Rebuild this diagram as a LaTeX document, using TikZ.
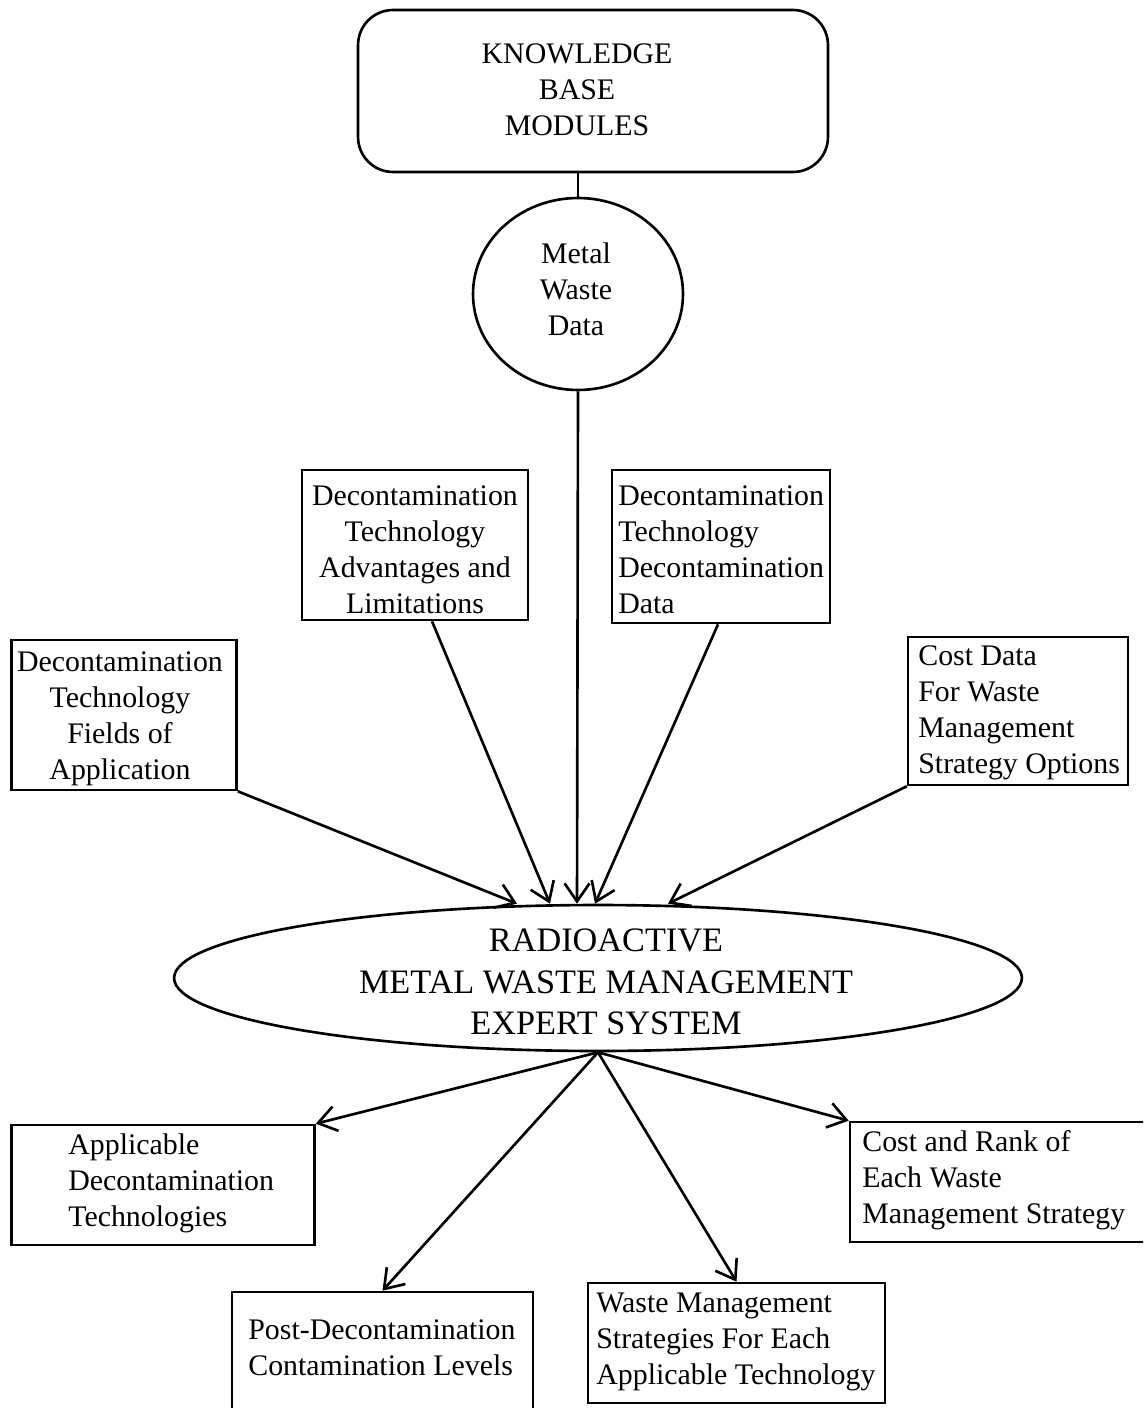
\documentclass[tikz,border=0pt]{standalone}
\usepackage{fontspec}
\setmainfont{Liberation Serif}
\usetikzlibrary{arrows.meta,shapes.geometric}
\tikzset{
  outline/.style={draw, line width=1.5pt, inner sep=0pt},
  boxshape/.style={outline, rectangle},
  txt/.style={inner sep=0pt, font=\fontsize{17}{20.5}\selectfont},
  bigtxt/.style={inner sep=0pt, font=\fontsize{19.5}{23.5}\selectfont, align=center},
  ctxt/.style={txt, align=center},
  ltxt/.style={txt, align=left, anchor=west},
  link/.style={line width=1.5pt},
  arr/.style={line width=1.5pt, -{Straight Barb[length=0.36cm,width=0.5cm,line width=1.5pt]}}
}
\begin{document}
\begin{tikzpicture}[x=0.02cm,y=-0.02cm]
\clip (0,0) rectangle (1143,1408);
\fill[white] (0,0) rectangle (1143,1408);

% knowledge base
\node[outline, rectangle, rounded corners=0.7cm, minimum width=9.4cm, minimum height=3.24cm] (kb) at (593,91) {};
\node[ctxt] (kbt) at (577,90) {KNOWLEDGE\\BASE\\MODULES};

% metal waste data circle
\node[outline, ellipse, minimum width=4.2cm, minimum height=3.84cm] (mw) at (578,294) {};
\node[ctxt] (mwt) at (576,289) {Metal\\Waste\\Data};

% input boxes
\node[boxshape, minimum width=4.52cm, minimum height=3.0cm] (adv) at (415,545) {};
\node[ctxt] (advt) at (415,550) {Decontamination\\Technology\\Advantages and\\Limitations};

\node[boxshape, minimum width=4.36cm, minimum height=3.06cm] (data) at (721,546.5) {};
\node[ltxt] (datat) at (618,550) {Decontamination\\Technology\\Decontamination\\Data};

\node[boxshape, minimum width=4.5cm, minimum height=3.0cm] (fields) at (124,715) {};
\node[ctxt] (fieldst) at (120,719) {Decontamination\\Technology\\Fields of\\Application};

\node[boxshape, minimum width=4.4cm, minimum height=2.96cm] (costd) at (1018,711) {};
\node[ltxt] (costdt) at (918,713) {Cost Data\\For Waste\\Management\\Strategy Options};

% expert system ellipse
\node[outline, ellipse, minimum width=16.96cm, minimum height=2.92cm] (ell) at (598,978) {};
\node[bigtxt] (ellt) at (606,982) {RADIOACTIVE\\METAL WASTE MANAGEMENT\\EXPERT SYSTEM};

% output boxes
\node[boxshape, minimum width=6.06cm, minimum height=2.4cm] (appl) at (163,1185) {};
\node[ltxt] (applt) at (68,1183) {Applicable\\Decontamination\\Technologies};

\node[boxshape, minimum width=5.9cm, minimum height=2.4cm] (costr) at (997.5,1182) {};
\node[ltxt] (costrt) at (862,1180) {Cost and Rank of\\Each Waste\\Management Strategy};

\node[boxshape, minimum width=6.02cm, minimum height=2.46cm] (post) at (382.5,1353.5) {};
\node[ltxt] (postt) at (248,1348) {Post-Decontamination\\Contamination Levels};

\node[boxshape, minimum width=5.94cm, minimum height=2.4cm] (waste) at (736.5,1343) {};
\node[ltxt] (wastet) at (596,1342) {Waste Management\\Strategies For Each\\Applicable Technology};

% connectors
\draw[link] (mw.north) -- (mw.north |- kb.south);
\draw[arr] (fields.south east) -- ([xshift=-1.62cm]ell.north);
\draw[arr] ([xshift=0.34cm]adv.south) -- ([xshift=-0.96cm]ell.north);
\draw[arr] (mw.south) -- ([xshift=-0.42cm]ell.north);
\draw[arr] ([xshift=-0.06cm]data.south) -- ([xshift=-0.06cm]ell.north);
\draw[arr] (costd.south west) -- ([xshift=1.4cm]ell.north);

\draw[arr] (ell.south) -- (appl.north east);
\draw[arr] (ell.south) -- (post.north);
\draw[arr] (ell.south) -- (waste.north);
\draw[arr] (ell.south) -- (costr.north west);
\end{tikzpicture}
\end{document}
